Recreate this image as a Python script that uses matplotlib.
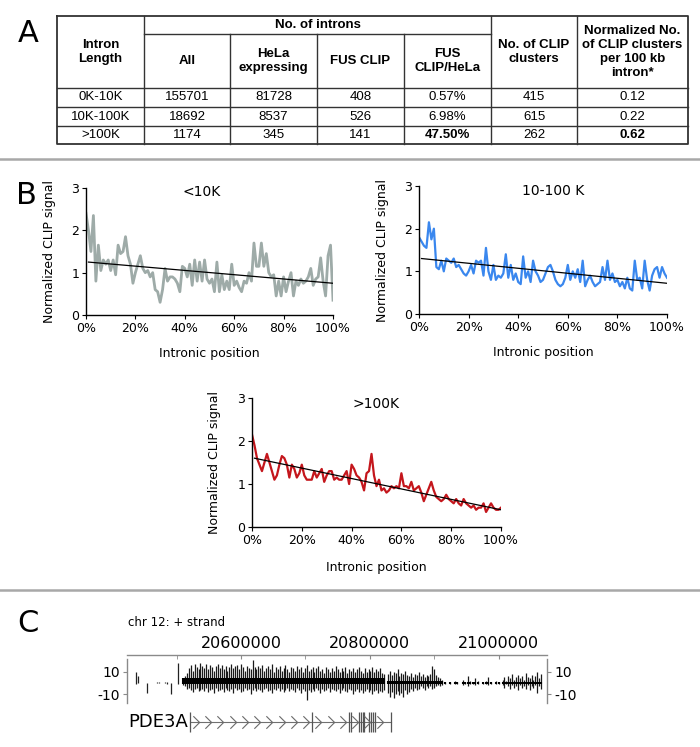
import matplotlib.pyplot as plt
import numpy as np
from matplotlib.path import Path

# ---------------- panel A : table ----------------
row_labels = ["0K-10K", "10K-100K", ">100K"]
n_all = [155701, 18692, 1174]
n_hela = [81728, 8537, 345]
n_fus = [408, 526, 141]
fus_per_hela = [0.57, 6.98, 47.50]
n_clusters = [415, 615, 262]
norm_clusters = [0.12, 0.22, 0.62]

# ---------------- panel B : CLIP signal along introns ----------------
intron_pct = np.arange(101)  # 0% .. 100% in 1% bins

sig_lt10k = [2.4, 2.0, 1.5, 2.35, 0.8, 1.65, 1.05, 1.3, 1.2, 1.3,
             1.05, 1.3, 0.95, 1.65, 1.45, 1.5, 1.85, 1.4, 1.2, 0.75,
             1.0, 1.2, 1.4, 1.1, 1.0, 1.05, 0.9, 1.0, 0.6, 0.55,
             0.3, 0.6, 1.1, 0.8, 0.9, 0.9, 0.85, 0.75, 0.55, 1.15,
             1.1, 0.9, 1.2, 0.7, 1.3, 0.8, 1.25, 0.8, 1.3, 0.85,
             0.75, 0.85, 0.55, 1.25, 0.55, 0.95, 0.6, 0.8, 0.6, 1.2,
             0.7, 0.8, 0.65, 0.55, 0.8, 0.75, 1.0, 0.8, 1.7, 1.15,
             1.15, 1.7, 1.15, 1.45, 1.0, 0.9, 0.95, 0.45, 0.8, 0.45,
             0.9, 0.55, 0.8, 1.0, 0.45, 0.8, 0.7, 0.85, 0.75, 0.8,
             0.9, 1.1, 0.7, 0.85, 0.9, 1.35, 0.8, 0.45, 1.4, 1.65,
             0.35]
sig_10_100k = [1.8, 1.7, 1.6, 1.55, 2.15, 1.75, 2.0, 1.1, 1.05, 1.25,
               1.0, 1.3, 1.25, 1.2, 1.3, 1.1, 1.15, 1.05, 0.95, 0.9,
               1.0, 1.15, 0.95, 1.25, 1.2, 1.25, 0.9, 1.55, 1.0, 0.8,
               1.15, 0.8, 0.9, 0.85, 0.95, 1.4, 0.85, 1.15, 0.8, 0.95,
               0.75, 0.7, 1.35, 0.85, 1.0, 0.75, 1.25, 1.0, 0.9, 0.75,
               0.8, 0.95, 1.1, 1.15, 1.0, 0.8, 0.7, 0.65, 0.7, 0.85,
               1.15, 0.8, 1.0, 0.85, 1.05, 0.75, 1.25, 0.65, 0.8, 0.9,
               0.75, 0.65, 0.7, 0.75, 1.1, 0.8, 1.25, 0.8, 0.95, 0.75,
               0.8, 0.65, 0.75, 0.6, 0.85, 0.6, 0.55, 1.25, 0.8, 0.85,
               0.6, 1.25, 0.8, 0.55, 0.9, 1.05, 1.1, 0.85, 1.1, 0.95,
               0.85]
sig_gt100k = [2.15, 1.9, 1.6, 1.45, 1.3, 1.5, 1.7, 1.5, 1.3, 1.1,
              1.2, 1.45, 1.65, 1.6, 1.45, 1.15, 1.45, 1.35, 1.15, 1.25,
              1.45, 1.2, 1.1, 1.1, 1.1, 1.3, 1.15, 1.25, 1.35, 1.05,
              1.2, 1.3, 1.3, 1.1, 1.15, 1.1, 1.1, 1.2, 1.3, 1.0,
              1.45, 1.35, 1.2, 1.15, 1.05, 0.85, 1.25, 1.3, 1.7, 1.2,
              0.95, 1.1, 0.85, 0.9, 0.8, 0.85, 0.95, 0.9, 0.95, 0.9,
              1.25, 0.95, 0.95, 0.9, 1.05, 0.85, 0.9, 0.95, 0.8, 0.6,
              0.75, 0.9, 1.05, 0.85, 0.7, 0.65, 0.6, 0.65, 0.75, 0.65,
              0.6, 0.55, 0.65, 0.55, 0.5, 0.65, 0.55, 0.5, 0.45, 0.5,
              0.4, 0.45, 0.45, 0.55, 0.35, 0.45, 0.55, 0.45, 0.4, 0.4,
              0.45]
# linear trend lines (value at 1% and at 100%)
trend_x = [1, 100]
trend_lt10k = [1.25, 0.75]
trend_10_100k = [1.3, 0.72]
trend_gt100k = [1.6, 0.4]

# ---------------- panel C : PDE3A locus ----------------
chrom_lim = (20423000, 21075000)
chrom_major = [20600000, 20800000, 21000000]
chrom_minor = [20500000, 20700000, 20900000]

# isolated clusters upstream of the gene
left_pos = [20437000, 20440000, 20454000, 20470000, 20473000, 20482000, 20485000, 20491000, 20502000]
left_hi = [10, 6, 0, 1, 1, 1, 1, 0, 18]
left_lo = [-1, 0, -9, 0, 0, 0, -1, -10, -1]

# binned signal blocks: start, bin size, up, down, dense core (down, up)
blk1_start, blk1_step = 20510000, 3000
blk1_hi = [4, 6, 9, 13, 16, 11, 17, 14, 12, 18, 15, 13, 17, 12, 16, 14, 11, 15, 17, 13,
           16, 12, 15, 11, 14, 17, 13, 15, 16, 12, 17, 14, 11, 15, 13, 12, 20, 14, 12, 15,
           13, 16, 11, 13, 15, 12, 17, 10, 14, 12, 15, 11, 13, 16, 12, 10, 14, 13, 11, 15,
           12, 14, 10, 13, 16, 11, 12, 14, 10, 13, 15, 11, 12, 9, 14, 12, 10, 13, 11, 15,
           12, 10, 13, 11, 14, 9, 12, 11, 13, 10, 12, 14, 11, 9, 13, 10, 12, 11, 14, 10,
           12, 11, 13, 9, 8]
blk1_lo = [-2, -3, -5, -4, -6, -8, -5, -4, -7, -6, -5, -7, -4, -8, -6, -5, -9, -4, -7, -6,
           -5, -8, -4, -6, -7, -5, -9, -4, -6, -5, -8, -7, -4, -6, -5, -10, -6, -4, -7, -5,
           -6, -8, -5, -4, -7, -6, -9, -5, -6, -4, -7, -5, -8, -6, -4, -7, -5, -6, -8, -4,
           -6, -9, -5, -7, -15, -6, -8, -5, -7, -4, -6, -9, -5, -7, -6, -4, -8, -5, -6, -7,
           -5, -9, -6, -4, -7, -8, -5, -6, -10, -7, -5, -8, -6, -9, -7, -5, -8, -6, -10, -7,
           -6, -9, -7, -8, -6]
blk1_core = (-1, 4)
blk2_start, blk2_step = 20828000, 3000
blk2_hi = [8, 11, 7, 10, 9, 12, 6, 9, 8, 11, 7, 6, 9, 5, 8, 7, 10, 6, 8, 5, 7, 6, 8, 15, 12, 7, 5, 4, 3]
blk2_lo = [-9, -12, -8, -13, -10, -7, -11, -9, -12, -6, -10, -8, -5, -7, -4, -6, -5, -3, -4, -6,
           -3, -4, -3, -5, -4, -3, -2, -3, -2]
blk2_core = (-1, 2)
blk3_start, blk3_step = 20916000, 4000
blk3_hi = [1, 0, 1, 0, 2, 1, 0, 3, 1, 6, 2, 1, 4, 2, 0, 1, 2, 5, 1, 0, 2, 1]
blk3_lo = [-1, 0, -1, 0, -1, -1, 0, -2, -1, -3, -1, -1, -2, -1, 0, -1, -1, -2, -1, 0, -1, -1]
blk3_core = (-1, 1)
blk4_start, blk4_step = 21006000, 3000
blk4_hi = [3, 5, 2, 6, 4, 8, 3, 5, 7, 4, 6, 3, 9, 5, 4, 7, 3, 6, 10, 4, 8]
blk4_lo = [-2, -4, -1, -3, -5, -2, -4, -3, -6, -2, -4, -3, -5, -2, -6, -3, -4, -2, -9, -3, -5]
blk4_core = (-1, 1)

gene_name = "PDE3A"
gene_start, gene_end = 20521000, 20832600
exon_pos = [20521000, 20710000, 20767000, 20770500, 20783000, 20786000, 20789000,
            20791500, 20799000, 20802000, 20805500, 20808500, 20832600]

# ================================================================
W, H = 700, 747
fig = plt.figure(figsize=(7, 7.47), dpi=100)
plt.rcParams['font.family'] = ['DejaVu Sans']


def box(x0, y0, x1, y1):
    # axes from pixel box (top-left origin)
    return fig.add_axes([x0 / W, 1 - y1 / H, (x1 - x0) / W, (y1 - y0) / H])


ov = box(0, 0, W, H)
ov.set_xlim(0, W)
ov.set_ylim(H, 0)
ov.axis('off')

for y in (159, 590):
    ov.plot([0, W], [y, y], color='#a8a8a8', lw=1.8)

for letter, x, y in [("A", 28, 33), ("B", 26, 195), ("C", 28, 624)]:
    ov.text(x, y, letter, fontsize=22, ha='center', va='center')

# ---- table ----
tfont = ['Liberation Sans', 'DejaVu Sans']
cx = [57, 144, 230, 317, 404, 491, 577, 688]
ry = [16, 34, 88, 107, 126, 144]
lc = '#333333'
ov.plot([cx[0], cx[-1], cx[-1], cx[0], cx[0]], [ry[0], ry[0], ry[-1], ry[-1], ry[0]], color=lc, lw=1.3)
for y in ry[2:5]:
    ov.plot([cx[0], cx[-1]], [y, y], color=lc, lw=1)
ov.plot([cx[1], cx[5]], [ry[1], ry[1]], color=lc, lw=1)
for x in (cx[1], cx[5], cx[6]):
    ov.plot([x, x], [ry[0], ry[-1]], color=lc, lw=1)
for x in cx[2:5]:
    ov.plot([x, x], [ry[1], ry[-1]], color=lc, lw=1)

hdr = dict(fontsize=9.5, fontweight='bold', ha='center', va='center', family=tfont, linespacing=1.2)
mid = lambda i: (cx[i] + cx[i + 1]) / 2
ov.text(mid(0), 52, "Intron\nLength", **hdr)
ov.text((cx[1] + cx[5]) / 2, 25, "No. of introns", **hdr)
ov.text(mid(1), 61, "All", **hdr)
ov.text(mid(2), 61, "HeLa\nexpressing", **hdr)
ov.text(mid(3), 61, "FUS CLIP", **hdr)
ov.text(mid(4), 61, "FUS\nCLIP/HeLa", **hdr)
ov.text(mid(5), 52, "No. of CLIP\nclusters", **hdr)
ov.text(mid(6), 52, "Normalized No.\nof CLIP clusters\nper 100 kb\nintron*", **hdr)

for i in range(len(row_labels)):
    yy = (ry[2 + i] + ry[3 + i]) / 2
    cells = [row_labels[i], str(n_all[i]), str(n_hela[i]), str(n_fus[i]),
             f"{fus_per_hela[i]:.2f}%", str(n_clusters[i]), f"{norm_clusters[i]:.2f}"]
    for j, c in enumerate(cells):
        bold = (i == 2 and j in (4, 6))
        ov.text(mid(j), yy, c, fontsize=9.5, ha='center', va='center', family=tfont,
                fontweight='bold' if bold else 'normal')


# ---- panel B ----
def curve(ax, values, trend, color, lw, title, tx, ty):
    ax.plot(intron_pct, values, color=color, lw=lw, solid_joinstyle='round')
    ax.plot(trend_x, trend, color='black', lw=0.9)
    ax.set_xlim(0, 100)
    ax.set_ylim(0, 3)
    ax.set_yticks([0, 1, 2, 3])
    ax.set_xticks(range(0, 101, 20))
    ax.set_xticklabels([f"{v}%" for v in range(0, 101, 20)])
    for s in ('top', 'right'):
        ax.spines[s].set_visible(False)
    for s in ('left', 'bottom'):
        ax.spines[s].set_linewidth(1.0)
    ax.tick_params(labelsize=9, length=3, width=0.8, pad=2)
    ax.text(tx, ty, title, transform=ax.transAxes, fontsize=10, ha='center', va='center')
    ax.set_ylabel("Normalized CLIP signal", fontsize=9)
    ax.set_xlabel("Intronic position", fontsize=9)
    ax.patch.set_alpha(0)


b1 = box(86, 188, 333, 315)
curve(b1, sig_lt10k, trend_lt10k, '#9eaba8', 2.0, "<10K", 0.47, 0.97)
b1.yaxis.set_label_coords(-0.12, 0.5)
b1.xaxis.set_label_coords(0.5, -0.25)

b2 = box(419, 186, 667, 314)
curve(b2, sig_10_100k, trend_10_100k, '#3a87ee', 1.6, "10-100 K", 0.54, 0.96)
b2.yaxis.set_label_coords(-0.12, 0.5)
b2.xaxis.set_label_coords(0.5, -0.25)

b3 = box(252, 398, 501, 527)
curve(b3, sig_gt100k, trend_gt100k, '#c4161c', 1.6, ">100K", 0.50, 0.95)
b3.yaxis.set_label_coords(-0.125, 0.5)
b3.xaxis.set_label_coords(0.5, -0.26)

# ---- panel C ----
ov.text(128, 622, "chr 12: + strand", fontsize=8.5, ha='left', va='center')

sa = box(127, 655, 547, 703)
sa.set_xlim(*chrom_lim)
sa.set_ylim(-17.7, 24.8)
sa.patch.set_alpha(0)
gc = '#8a8a8a'
sa.spines['bottom'].set_visible(False)
for s in ('top', 'left', 'right'):
    sa.spines[s].set_color(gc)
    sa.spines[s].set_linewidth(1.0)
sa.spines['left'].set_bounds(-17.7, 21.2)
sa.spines['right'].set_bounds(-17.7, 21.2)
sa.xaxis.tick_top()
sa.set_xticks(chrom_major)
sa.set_xticklabels([str(v) for v in chrom_major])
sa.set_xticks(chrom_minor, minor=True)
sa.tick_params(axis='x', which='both', direction='in', length=3, color=gc, labelsize=11.5, pad=3)
sa.set_yticks([-10, 10])
sa.set_yticklabels(["-10", "10"])
sa.tick_params(axis='y', left=True, right=True, labelleft=True, labelright=True,
               direction='out', length=3, color=gc, labelsize=10, pad=2)

sa.vlines(left_pos, left_lo, left_hi, color='#222222', lw=0.9)
for start, step, hi, lo, core in [(blk1_start, blk1_step, blk1_hi, blk1_lo, blk1_core),
                                  (blk2_start, blk2_step, blk2_hi, blk2_lo, blk2_core),
                                  (blk3_start, blk3_step, blk3_hi, blk3_lo, blk3_core),
                                  (blk4_start, blk4_step, blk4_hi, blk4_lo, blk4_core)]:
    xs = start + step * np.arange(len(hi))
    hi = np.array(hi)
    lo = np.array(lo)
    # spikes
    sa.vlines(xs, lo, hi, color='#1a1a1a', lw=0.9)
    # dense black core near the baseline
    sa.vlines(xs, np.maximum(lo, core[0]), np.minimum(hi, core[1]), color='#000000', lw=1.5)

ga = box(127, 708, 547, 736)
ga.set_xlim(*chrom_lim)
ga.set_ylim(-1, 1)
ga.axis('off')
ga.plot([gene_start, gene_end], [0, 0], color='#707070', lw=0.8)
ga.vlines(exon_pos, -0.72, 0.72, color='#555555', lw=0.9)
chev = Path([(-0.5, 1.0), (0.5, 0.0), (-0.5, -1.0)], [Path.MOVETO, Path.LINETO, Path.LINETO])
chev_x = np.arange(gene_start + 9000, gene_end - 5000, 19000)
ga.plot(chev_x, np.zeros(len(chev_x)), ls='none', marker=chev, ms=9, mfc='none',
        mec='#6a6a6a', mew=0.8)
ga.text(gene_start - 2500, 0, gene_name, fontsize=13, ha='right', va='center')

fig.savefig("out.png", dpi=100)
